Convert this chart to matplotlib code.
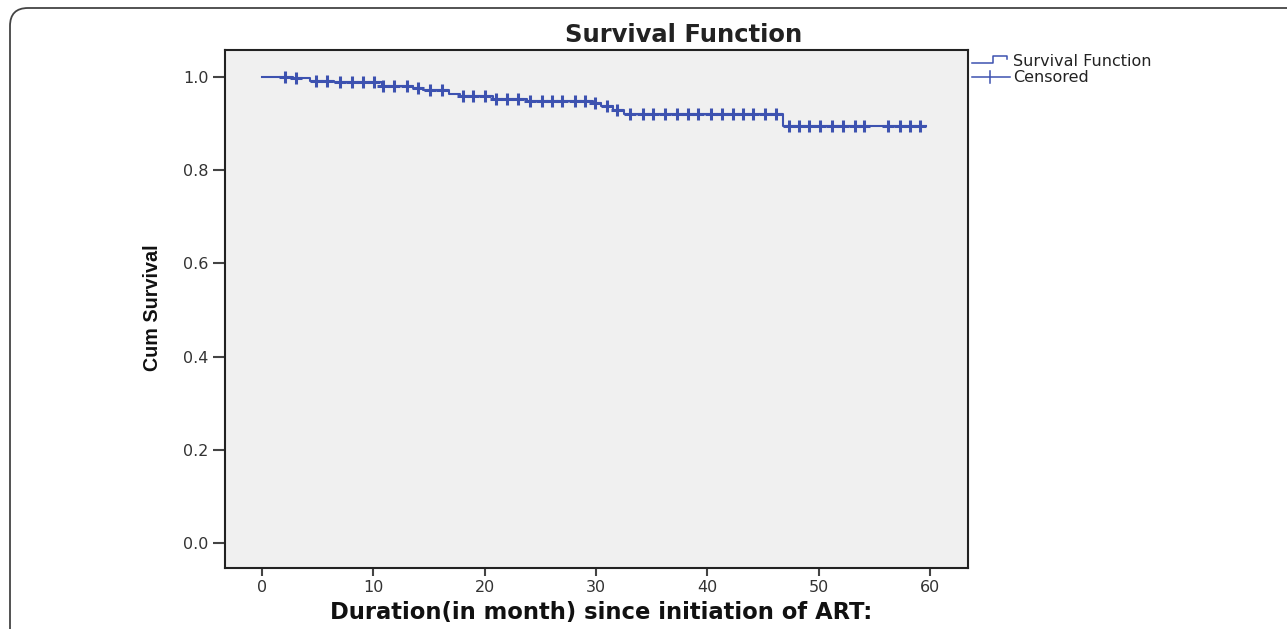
import numpy as np
import matplotlib
matplotlib.use("Agg")
import matplotlib.pyplot as plt
from matplotlib.lines import Line2D
from matplotlib.patches import FancyBboxPatch

# Kaplan-Meier steps (time in months, cumulative survival)
event_times = [0, 2.8, 4.3, 6.5, 10.8, 13.6, 14.5, 16.8, 17.8, 20.8, 23.8,
               29.7, 30.5, 31.5, 32.5, 46.8]
surv_values = [1.0, 0.997, 0.992, 0.989, 0.981, 0.976, 0.972, 0.964, 0.959,
               0.953, 0.948, 0.944, 0.938, 0.929, 0.921, 0.895]
last_time = 59.6

# censored observations
censor_times = [2.1, 3.1, 4.9, 5.9, 7.0, 8.1, 9.1, 10.1, 10.9, 11.9, 13.0,
                14.0, 15.1, 16.2, 18.1, 19.0, 20.0, 21.0, 22.0, 23.0, 24.1,
                25.2, 26.1, 27.0, 28.1, 29.0, 29.9, 31.0, 31.9, 33.1, 34.2,
                35.1, 36.2, 37.3, 38.3, 39.2, 40.3, 41.3, 42.3, 43.2, 44.1,
                45.2, 46.2, 47.3, 48.2, 49.1, 50.1, 51.2, 52.2, 53.3, 54.1,
                56.2, 57.3, 58.2, 59.1]

x_ticks = [0, 10, 20, 30, 40, 50, 60]
y_ticks = [0.0, 0.2, 0.4, 0.6, 0.8, 1.0]

blue = "#3d52b0"

fig = plt.figure(figsize=(12.87, 6.29), dpi=100)
fig.patch.set_facecolor("white")

# rounded outer frame, runs off the right and bottom edge
frame = FancyBboxPatch((0.1, -0.5), 14.0, 6.29 - 0.08 + 0.5,
                       boxstyle="round,pad=0,rounding_size=0.18",
                       transform=fig.dpi_scale_trans, fill=False,
                       ec="#444444", lw=1.3)
fig.add_artist(frame)

ax = fig.add_axes([0.1748, 0.097, 0.5773, 0.8235])
ax.set_facecolor("#f0f0f0")

step_x = event_times + [last_time]
step_y = surv_values + [surv_values[-1]]
ax.step(step_x, step_y, where="post", color=blue, lw=1.5)

idx = np.searchsorted(event_times, censor_times, side="right") - 1
cens_y = np.array(surv_values)[idx]
ax.plot(censor_times, cens_y, ls="none", marker="+", ms=8.5, mew=2.2, color=blue)

ax.set_xlim(-3.3, 63.4)
ax.set_ylim(-0.054, 1.058)
ax.set_xticks(x_ticks)
ax.set_yticks(y_ticks)
ax.set_xticklabels([str(t) for t in x_ticks])
ax.set_yticklabels(["%.1f" % t for t in y_ticks])
for sp in ax.spines.values():
    sp.set_color("#222222")
    sp.set_linewidth(1.5)
ax.tick_params(axis="both", direction="out", width=1.5, color="#444444",
               labelsize=11.5, labelcolor="#333333")
ax.tick_params(axis="y", length=9, pad=3)
ax.tick_params(axis="x", length=6, pad=3)

fig.text(684 / 1287, 1 - 35 / 629, "Survival Function", ha="center", va="center",
         fontsize=17.5, fontweight="bold", family="DejaVu Sans",
         color="#222222")
fig.text(601 / 1287, 1 - 612 / 629, "Duration(in month) since initiation of ART:",
         ha="center", va="center", fontsize=16.3, fontweight="bold",
         family="DejaVu Sans", color="#111111")
fig.text(152 / 1287, 1 - 308 / 629, "Cum Survival", ha="center", va="center",
         rotation=90, fontsize=14.2, fontweight="bold",
         family=["Liberation Sans Narrow", "Liberation Sans", "DejaVu Sans"],
         color="#111111")

# legend drawn by hand, SPSS style
def px(x, y):
    return x / 1287, 1 - y / 629

lx0, ly0 = px(972, 63)
lx1, ly1 = px(993, 56)
lx2, ly2 = px(1007, 59)
fig.add_artist(Line2D([lx0, lx1, lx1, lx2, lx2], [ly0, ly0, ly1, ly1, ly2],
                      color=blue, lw=1.1))
cx0, cy0 = px(972, 77)
cx1, _ = px(1010, 77)
cxm, cya = px(990, 71)
_, cyb = px(990, 83)
fig.add_artist(Line2D([cx0, cx1], [cy0, cy0], color=blue, lw=1.1))
fig.add_artist(Line2D([cxm, cxm], [cya, cyb], color=blue, lw=1.1))
tx, ty = px(1013, 61)
fig.text(tx, ty, "Survival Function", ha="left", va="center", fontsize=11.5,
         family="DejaVu Sans", color="#222222")
tx, ty = px(1013, 77)
fig.text(tx, ty, "Censored", ha="left", va="center", fontsize=11.5,
         family="DejaVu Sans", color="#222222")

fig.savefig("out.png", dpi=100)
